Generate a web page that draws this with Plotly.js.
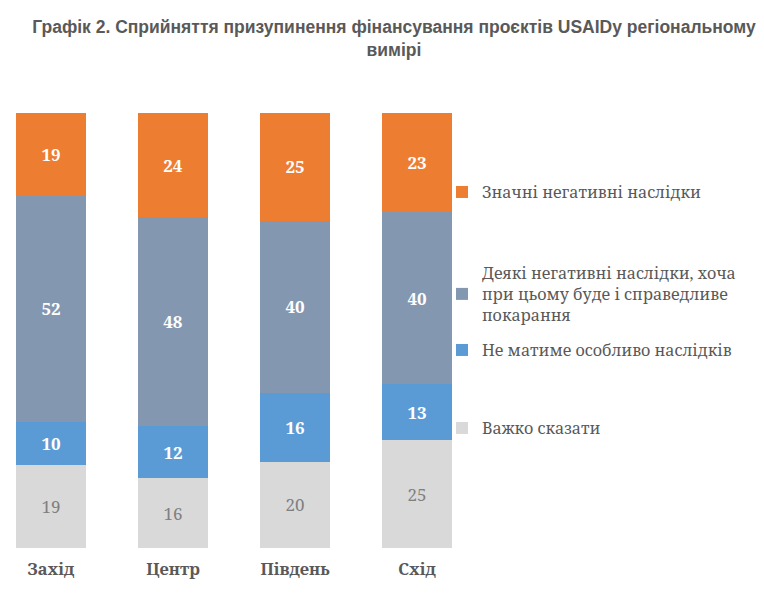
<!DOCTYPE html>
<html>
<head>
<meta charset="utf-8">
<script src="https://cdn.plot.ly/plotly-3.0.1.min.js"></script>
<style>html,body{margin:0;padding:0;background:#fff;}#chart{width:764px;height:597px;}</style>
</head>
<body>
<div id="chart"></div>
<script>
const regions = ["Захід", "Центр", "Південь", "Схід"];
const hardToSay = [19, 16, 20, 25];
const noConsequences = [10, 12, 16, 13];
const someNegative = [52, 48, 40, 40];
const significantNegative = [19, 24, 25, 23];

const seriesNames = [
  "Важко сказати",
  "Не матиме особливо наслідків",
  "Деякі негативні наслідки, хоча<br>при цьому буде і справедливе<br>покарання",
  "Значні негативні наслідки"
];
const seriesValues = [hardToSay, noConsequences, someNegative, significantNegative];
const seriesColors = ["#D9D9D9", "#5B9BD5", "#8497B0", "#ED7D31"];
const labelColors = ["#7F7F7F", "#FFFFFF", "#FFFFFF", "#FFFFFF"];
const labelWeights = ["normal", "bold", "bold", "bold"];
const legendIds = ["legend4", "legend3", "legend2", "legend"];

const serif = "Noto Serif";

const traces = seriesValues.map((vals, i) => ({
  type: "bar",
  name: seriesNames[i],
  x: regions,
  y: vals,
  text: vals,
  texttemplate: "%{text}",
  textposition: "inside",
  insidetextanchor: "middle",
  textangle: 0,
  constraintext: "none",
  textfont: {family: serif, size: 17, color: labelColors[i], weight: labelWeights[i]},
  marker: {color: seriesColors[i], line: {width: 0}},
  legend: legendIds[i],
  hoverinfo: "skip"
}));

function legendAt(yCenterPx) {
  return {
    x: 442 / 764, xref: "container", xanchor: "left",
    y: 1 - yCenterPx / 597, yref: "container", yanchor: "middle",
    font: {family: serif, size: 16.1, color: "#595959"},
    bgcolor: "rgba(0,0,0,0)",
    borderwidth: 0,
    itemclick: false
  };
}

const layout = {
  width: 764, height: 597,
  paper_bgcolor: "#FFFFFF", plot_bgcolor: "#FFFFFF",
  margin: {l: 0, r: 294, t: 113, b: 49, autoexpand: false},
  barmode: "stack",
  barnorm: "percent",
  bargap: 0.426,
  title: {
    text: "Графік 2. Сприйняття призупинення фінансування проєктів USAIDу регіональному<br>вимірі",
    x: 394 / 764, xref: "container", xanchor: "center",
    y: 1 - 33 / 597, yref: "container", yanchor: "top",
    font: {family: "Liberation Sans", size: 17.5, color: "#595959", weight: "bold"}
  },
  xaxis: {
    type: "category",
    range: [-0.418, 3.434],
    showgrid: false, zeroline: false, showline: false,
    ticks: "", ticklabelstandoff: 9,
    tickfont: {family: serif, size: 16.5, color: "#595959", weight: "bold"},
    fixedrange: true
  },
  yaxis: {
    range: [0, 100], visible: false, fixedrange: true
  },
  showlegend: true,
  legend: legendAt(192),
  legend2: legendAt(294),
  legend3: legendAt(350),
  legend4: legendAt(428)
};

Plotly.newPlot("chart", traces, layout, {displayModeBar: false, staticPlot: true});
</script>
</body>
</html>
